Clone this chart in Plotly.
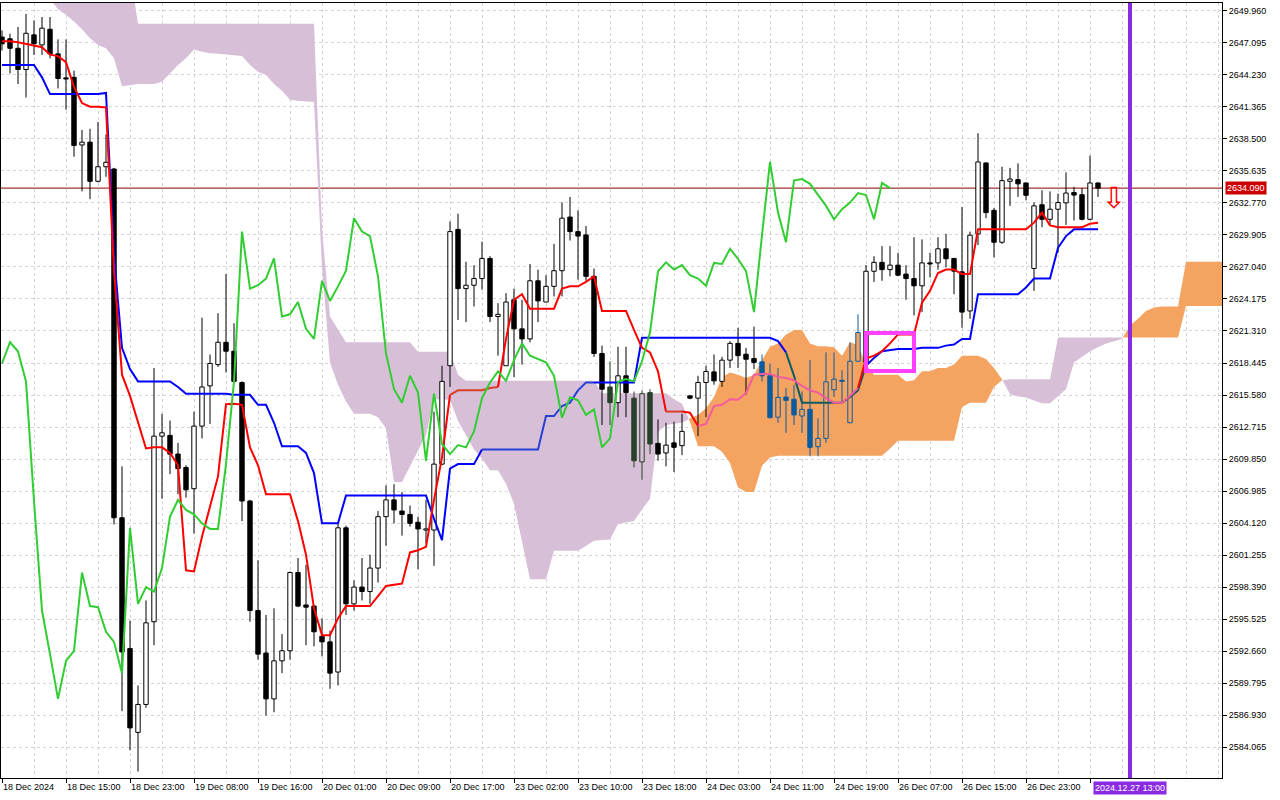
import plotly.graph_objects as go

# XAUUSD H1, bars from 18 Dec 07:00 to 27 Dec 09:00 (bar index = position on the x axis)
opens = [2647.6, 2647.45, 2646.6, 2644.7, 2647.8, 2646.9, 2648.3, 2646.1, 2643.95, 2644.0,
         2637.95, 2638.2, 2634.7, 2636.0, 2635.8, 2604.6, 2592.9, 2585.4, 2587.9, 2595.3,
         2611.9, 2611.97, 2610.3, 2609.1, 2607.2, 2612.8, 2616.4, 2618.3, 2620.3, 2619.5,
         2616.7, 2606.1, 2596.3, 2592.5, 2588.4, 2591.8, 2592.7, 2599.7, 2596.8, 2596.7,
         2594.0, 2593.5, 2590.8, 2603.7, 2596.9, 2598.4, 2598.0, 2600.1, 2604.7, 2606.2,
         2605.2, 2604.9, 2604.2, 2603.5, 2603.5, 2609.4, 2618.2, 2630.4, 2625.1, 2625.4,
         2626.0, 2627.8, 2622.6, 2618.2, 2624.1, 2621.5, 2620.6, 2625.8, 2623.9, 2625.3,
         2626.7, 2631.5, 2630.2, 2629.9, 2626.2, 2619.3, 2616.3, 2614.9, 2617.3, 2615.3,
         2609.6, 2615.8, 2611.26, 2610.4, 2611.3, 2611.05, 2615.5, 2615.3, 2616.7, 2617.65,
         2616.8, 2618.7, 2620.2, 2619.23, 2618.85, 2618.55, 2617.3, 2613.6, 2615.4, 2615.2,
         2613.7, 2614.3, 2610.96, 2611.7, 2616.05, 2616.9, 2613.1, 2618.6, 2618.5, 2626.65,
         2627.45, 2626.8, 2627.2, 2626.4, 2626.0, 2625.35, 2627.4, 2627.4, 2628.66, 2627.8,
         2626.6, 2623.1, 2630.0, 2636.34, 2632.1, 2629.25, 2634.7, 2634.85, 2634.55, 2626.9,
         2632.6, 2631.3, 2632.2, 2632.77, 2633.7, 2633.5, 2631.3, 2634.55]
highs = [2648.2, 2647.9, 2648.5, 2649.67, 2649.1, 2649.4, 2649.4, 2647.4, 2647.4, 2644.6,
         2639.3, 2639.4, 2640.0, 2638.9, 2635.9, 2609.2, 2595.4, 2589.6, 2597.2, 2618.0,
         2613.9, 2613.3, 2611.3, 2609.3, 2614.1, 2622.5, 2619.2, 2622.9, 2626.4, 2622.0,
         2616.8, 2606.2, 2600.8, 2595.9, 2596.5, 2594.2, 2599.8, 2601.0, 2600.4, 2596.8,
         2595.6, 2594.5, 2604.2, 2603.9, 2599.0, 2601.0, 2601.3, 2605.2, 2607.5, 2607.6,
         2606.9, 2605.7, 2604.7, 2606.2, 2614.1, 2618.2, 2631.1, 2631.8, 2627.5, 2627.2,
         2629.3, 2628.0, 2623.8, 2624.7, 2625.1, 2624.1, 2627.3, 2626.8, 2626.3, 2629.1,
         2632.8, 2633.3, 2632.1, 2630.7, 2626.9, 2620.0, 2618.6, 2619.9, 2619.9, 2615.9,
         2616.0, 2616.1, 2613.4, 2613.1, 2613.2, 2613.9, 2615.6, 2617.3, 2618.2, 2619.2,
         2619.0, 2620.4, 2621.6, 2619.8, 2621.7, 2619.2, 2618.4, 2618.0, 2616.2, 2616.5,
         2615.9, 2618.7, 2613.5, 2619.4, 2619.4, 2617.8, 2620.3, 2622.8, 2627.2, 2628.0,
         2628.9, 2628.9, 2628.3, 2627.2, 2629.7, 2629.5, 2628.3, 2629.7, 2630.0, 2627.8,
         2632.4, 2630.2, 2639.0, 2636.4, 2632.3, 2636.0, 2635.9, 2636.3, 2634.6, 2632.8,
         2633.9, 2633.8, 2633.6, 2635.5, 2634.2, 2634.1, 2637.0, 2634.6]
lows = [2646.4, 2644.35, 2643.4, 2642.2, 2646.0, 2646.0, 2645.7, 2643.0, 2641.1, 2636.9,
        2633.8, 2633.1, 2634.6, 2635.1, 2604.0, 2587.3, 2583.8, 2581.9, 2587.6, 2593.2,
        2606.3, 2608.5, 2606.7, 2606.4, 2603.2, 2611.7, 2613.0, 2618.1, 2617.6, 2616.7,
        2604.3, 2595.3, 2591.9, 2586.9, 2587.2, 2590.7, 2591.9, 2596.6, 2593.2, 2593.1,
        2592.2, 2589.3, 2589.6, 2595.9, 2596.3, 2597.2, 2596.9, 2598.8, 2602.1, 2604.1,
        2603.0, 2603.8, 2600.0, 2602.3, 2600.3, 2609.3, 2616.3, 2622.3, 2622.1, 2623.5,
        2625.0, 2622.1, 2619.1, 2618.2, 2617.2, 2618.3, 2620.3, 2622.1, 2623.9, 2624.4,
        2624.4, 2629.4, 2625.9, 2625.8, 2619.0, 2612.9, 2612.9, 2613.6, 2613.6, 2609.1,
        2608.0, 2610.3, 2609.7, 2609.2, 2608.7, 2610.2, 2615.2, 2611.9, 2613.6, 2616.5,
        2616.3, 2618.0, 2618.0, 2615.6, 2617.9, 2616.8, 2613.5, 2613.1, 2612.2, 2612.9,
        2612.2, 2610.1, 2610.1, 2611.3, 2615.4, 2614.9, 2613.1, 2618.6, 2617.9, 2625.7,
        2625.8, 2626.2, 2626.2, 2624.1, 2622.7, 2623.0, 2626.1, 2626.8, 2627.0, 2624.6,
        2621.6, 2622.4, 2629.0, 2631.4, 2627.9, 2629.1, 2632.5, 2633.3, 2633.0, 2624.9,
        2630.6, 2630.8, 2628.3, 2630.8, 2631.2, 2631.2, 2631.2, 2633.3]
closes = [2647.0, 2646.6, 2644.7, 2647.94, 2647.0, 2648.4, 2646.1, 2643.9, 2643.85, 2637.9,
          2638.2, 2634.7, 2636.0, 2636.4, 2604.6, 2592.6, 2585.8, 2587.9, 2595.2, 2611.9,
          2612.2, 2610.3, 2609.0, 2607.1, 2612.8, 2616.3, 2618.4, 2620.3, 2619.5, 2616.8,
          2606.1, 2596.3, 2592.4, 2588.4, 2591.8, 2592.7, 2599.7, 2596.7, 2596.6, 2594.4,
          2593.5, 2590.7, 2603.7, 2596.9, 2598.4, 2598.0, 2600.1, 2604.7, 2606.2, 2605.3,
          2604.9, 2604.1, 2603.6, 2603.6, 2609.4, 2616.8, 2630.2, 2625.1, 2625.4, 2626.0,
          2627.8, 2622.6, 2622.8, 2623.9, 2621.5, 2620.6, 2625.8, 2624.0, 2625.3, 2626.7,
          2631.4, 2630.2, 2629.8, 2626.2, 2619.3, 2616.1, 2614.9, 2617.3, 2615.8, 2609.7,
          2615.7, 2611.2, 2610.3, 2611.1, 2610.9, 2612.33, 2615.3, 2616.7, 2617.69, 2616.85,
          2618.7, 2620.2, 2619.1, 2618.78, 2618.5, 2617.3, 2613.55, 2615.37, 2615.1, 2613.8,
          2614.3, 2610.9, 2611.7, 2616.76, 2617.0, 2616.8, 2618.6, 2621.17, 2626.65, 2627.45,
          2626.8, 2627.2, 2626.3, 2626.0, 2625.35, 2627.4, 2627.3, 2628.66, 2627.77, 2626.66,
          2623.0, 2629.88, 2636.43, 2631.9, 2629.25, 2634.76, 2634.9, 2634.47, 2633.45, 2632.5,
          2631.3, 2632.2, 2632.8, 2633.65, 2633.47, 2631.3, 2634.55, 2634.09]

# Ichimoku lines
tenkan = [2647.23, 2647.23, 2647.14, 2647.0, 2646.9, 2646.7, 2646.03, 2645.9, 2645.36, 2643.14,
          2641.7, 2641.37, 2641.37, 2641.3, 2626.7, 2617.4, 2615.5, 2613.2, 2610.8, 2610.9,
          2610.9, 2610.4, 2609.3, 2599.9, 2599.8, 2602.9, 2605.7, 2608.3, 2614.75, 2614.8,
          2614.7, 2610.9, 2609.3, 2606.7, 2606.7, 2606.7, 2606.7, 2604.3, 2601.3, 2596.5,
          2594.1, 2594.1, 2595.6, 2596.7, 2596.7, 2596.7, 2596.7, 2597.6, 2598.5, 2598.6,
          2598.7, 2601.5, 2601.7, 2602.0, 2606.2, 2610.0, 2615.6, 2616.0, 2616.0, 2616.0,
          2616.0, 2616.2, 2616.3, 2620.6, 2624.1, 2624.6, 2623.3, 2623.3, 2623.3, 2623.3,
          2625.1, 2625.3, 2625.3, 2625.7, 2626.2, 2623.1, 2623.1, 2623.1, 2623.1, 2621.4,
          2619.8, 2619.4, 2617.7, 2614.1, 2614.1, 2614.1, 2614.0, 2612.8, 2613.0, 2614.6,
          2614.7, 2615.2, 2615.15, 2615.75, 2617.4, 2617.45, 2617.45, 2617.2, 2617.1, 2616.9,
          2616.4, 2616.0, 2615.8, 2615.3, 2614.9, 2614.9, 2615.5, 2616.2, 2618.85, 2619.1,
          2619.5, 2620.2, 2621.0, 2621.0, 2621.0, 2623.85, 2624.9, 2626.5, 2626.8, 2626.8,
          2626.4, 2626.4, 2630.4, 2630.4, 2630.4, 2630.4, 2630.4, 2630.4, 2630.4, 2631.0,
          2631.9, 2630.75, 2630.6, 2630.6, 2630.6, 2630.6, 2630.9, 2631.0]
kijun = [2645.1, 2645.1, 2645.1, 2645.1, 2645.1, 2644.0, 2642.5, 2642.5, 2642.5, 2642.5,
         2642.5, 2642.5, 2642.5, 2642.6, 2628.1, 2619.8, 2617.9, 2616.8, 2616.8, 2616.8,
         2616.8, 2616.8, 2616.3, 2615.7, 2615.7, 2615.7, 2615.7, 2615.7, 2615.7, 2615.6,
         2615.6, 2615.6, 2614.7, 2614.7, 2613.1, 2611.0, 2611.0, 2611.0, 2610.4, 2608.6,
         2604.1, 2604.1, 2604.1, 2606.6, 2606.6, 2606.6, 2606.6, 2606.6, 2606.6, 2606.6,
         2606.6, 2606.6, 2606.6, 2606.6, 2604.5, 2602.6, 2609.0, 2609.4, 2609.4, 2609.4,
         2610.7, 2610.7, 2610.7, 2610.7, 2610.7, 2610.7, 2610.7, 2610.7, 2613.7, 2613.7,
         2614.6, 2614.9, 2616.0, 2616.7, 2616.7, 2616.7, 2616.7, 2616.7, 2616.7, 2616.7,
         2620.7, 2620.7, 2620.7, 2620.7, 2620.7, 2620.7, 2620.7, 2620.7, 2620.7, 2620.7,
         2620.7, 2620.7, 2620.7, 2620.7, 2620.7, 2620.7, 2620.7, 2620.4, 2619.4, 2617.3,
         2614.9, 2614.9, 2614.9, 2614.9, 2614.9, 2614.9, 2615.4, 2616.0, 2618.2, 2618.9,
         2619.5, 2619.6, 2619.7, 2619.7, 2619.7, 2619.8, 2619.8, 2619.8, 2620.0, 2620.1,
         2620.6, 2620.6, 2624.6, 2624.6, 2624.6, 2624.6, 2624.6, 2624.6, 2625.2, 2626.0,
         2626.0, 2626.0, 2628.75, 2629.8, 2630.4, 2630.4, 2630.4, 2630.4]
# senkou spans, already shifted 26 bars forward (bars 0..153)
span_a = [2653.0, 2653.0, 2652.8, 2652.5, 2652.2, 2651.6, 2651.0, 2650.1, 2649.6, 2649.0,
          2648.3, 2647.5, 2646.9, 2646.6, 2645.7, 2643.2, 2643.3, 2643.4, 2643.4, 2643.4,
          2643.6, 2644.4, 2645.1, 2645.7, 2646.5, 2646.3, 2646.15, 2646.1, 2646.05, 2646.0,
          2645.9, 2645.1, 2644.5, 2644.2, 2643.4, 2642.8, 2642.0, 2641.9, 2641.85, 2641.8,
          2627.0, 2618.5, 2616.5, 2615.0, 2613.9, 2613.9, 2613.9, 2613.6, 2612.6, 2607.8,
          2607.8, 2609.2, 2610.6, 2612.0, 2615.2, 2615.2, 2615.15, 2613.25, 2612.0, 2610.7,
          2609.9, 2608.85, 2608.85, 2607.65, 2605.85, 2602.55, 2599.1, 2599.1, 2599.1, 2601.65,
          2601.65, 2601.65, 2601.65, 2602.1, 2602.55, 2602.6, 2602.65, 2604.05, 2604.15, 2604.3,
          2605.35, 2606.3, 2612.3, 2612.9, 2613.0, 2613.1, 2613.5, 2613.8, 2614.4, 2615.4,
          2617.2, 2617.6, 2617.4, 2617.1, 2617.4, 2618.7, 2619.9, 2620.2, 2621.0, 2621.4,
          2621.4, 2620.2, 2619.95, 2619.95, 2619.85, 2619.1, 2620.3, 2620.05, 2618.3, 2617.4,
          2617.4, 2617.4, 2617.4, 2616.8, 2616.9, 2617.7, 2617.7, 2618.0, 2618.0, 2618.3,
          2619.1, 2619.1, 2619.1, 2618.8, 2618.0, 2617.0, 2615.65, 2615.45, 2615.35, 2615.1,
          2614.85, 2614.85, 2615.45, 2616.1, 2618.5, 2619.0, 2619.5, 2619.85, 2620.2, 2620.4,
          2620.6, 2621.8, 2622.4, 2623.1, 2623.4, 2623.5, 2623.5, 2623.5, 2627.5, 2627.5,
          2627.5, 2627.5, 2627.5, 2627.5]
span_b = [2653.5, 2653.5, 2653.5, 2653.5, 2653.5, 2653.5, 2653.5, 2653.5, 2653.5, 2653.5,
          2653.5, 2653.5, 2653.5, 2653.5, 2653.5, 2653.5, 2653.5, 2648.8, 2648.8, 2648.8,
          2648.8, 2648.8, 2648.8, 2648.8, 2648.8, 2648.8, 2648.8, 2648.8, 2648.8, 2648.8,
          2648.8, 2648.8, 2648.8, 2648.8, 2648.8, 2648.8, 2648.8, 2648.8, 2648.8, 2648.8,
          2630.4, 2622.6, 2621.45, 2620.3, 2620.3, 2620.3, 2620.3, 2620.3, 2620.3, 2620.3,
          2620.3, 2620.3, 2619.45, 2619.45, 2619.45, 2619.45, 2619.45, 2617.4, 2616.85, 2616.85,
          2616.85, 2616.85, 2616.85, 2616.85, 2616.85, 2616.85, 2616.85, 2616.85, 2616.85, 2616.85,
          2616.85, 2616.85, 2616.85, 2616.85, 2616.85, 2615.75, 2615.75, 2615.75, 2615.75, 2615.75,
          2615.75, 2615.75, 2615.75, 2615.75, 2615.2, 2614.8, 2613.2, 2611.0, 2611.0, 2611.0,
          2610.5, 2609.5, 2607.3, 2606.9, 2606.9, 2609.25, 2610.0, 2610.15, 2610.15, 2610.15,
          2610.15, 2610.15, 2610.15, 2610.15, 2610.15, 2610.15, 2610.15, 2610.15, 2610.15, 2610.15,
          2610.15, 2610.8, 2611.5, 2611.5, 2611.5, 2611.5, 2611.5, 2611.5, 2611.5, 2611.5,
          2614.5, 2614.9, 2614.9, 2614.9, 2616.3, 2616.9, 2617.0, 2617.0, 2617.0, 2617.0,
          2617.0, 2617.0, 2620.72, 2620.72, 2620.72, 2620.72, 2620.72, 2620.72, 2620.72, 2620.72,
          2620.72, 2620.72, 2620.72, 2620.72, 2620.72, 2620.72, 2620.72, 2620.72, 2623.55, 2623.55,
          2623.55, 2623.55, 2623.55, 2623.55]

label_bars = [0, 8, 16, 24, 32, 40, 48, 56, 64, 72, 80, 88, 96, 104, 112, 120, 128, 136]
label_text = ["18 Dec 2024", "18 Dec 15:00", "18 Dec 23:00", "19 Dec 08:00", "19 Dec 16:00",
              "20 Dec 01:00", "20 Dec 09:00", "20 Dec 17:00", "23 Dec 02:00", "23 Dec 10:00",
              "23 Dec 18:00", "24 Dec 03:00", "24 Dec 11:00", "24 Dec 19:00", "26 Dec 07:00",
              "26 Dec 15:00", "26 Dec 23:00", ""]
price_ticks = [2649.960, 2647.095, 2644.230, 2641.365, 2638.500, 2635.635, 2632.770, 2629.905,
               2627.040, 2624.175, 2621.310, 2618.445, 2615.580, 2612.715, 2609.850, 2606.985,
               2604.120, 2601.255, 2598.390, 2595.525, 2592.660, 2589.795, 2586.930, 2584.065]

current_price = 2634.09
vline_bar = 141
vline_label = "2024.12.27 13:00"
box_bars = [108, 114]
box_prices = [2617.73, 2621.13]
arrow_bar = 139
arrow_price = 2633.0

x_range = [-0.125, 152.5]
y_range = [2581.32, 2650.65]
GRID = "#d4d4d4"
FONT = "Liberation Sans"

# MT draws the cloud xor-ed over what was painted before it (candles, tenkan, kijun)
MASK = {"up": 0x0B5B9F, "down": 0x274027}


def xor(color, kind):
    return "#%06x" % (int(color[1:], 16) ^ MASK[kind])


def cloud_kind(i, v):
    if i < 0 or i >= len(span_a):
        return None
    lo, hi = min(span_a[i], span_b[i]), max(span_a[i], span_b[i])
    if lo <= v <= hi:
        return "up" if span_a[i] >= span_b[i] else "down"
    return None


fig = go.Figure()

# cloud polygons, split where the spans cross
pieces = []
kind_now = None
xs, ya, yb = [], [], []
for i in range(len(span_a)):
    kind = "up" if span_a[i] >= span_b[i] else "down"
    if kind_now is not None and kind != kind_now:
        d0 = span_a[i - 1] - span_b[i - 1]
        d1 = span_a[i] - span_b[i]
        t = d0 / (d0 - d1)
        xc = i - 1 + t
        yc = span_a[i - 1] + t * (span_a[i] - span_a[i - 1])
        xs.append(xc)
        ya.append(yc)
        yb.append(yc)
        pieces.append((kind_now, xs, ya, yb))
        xs, ya, yb = [xc], [yc], [yc]
    kind_now = kind
    xs.append(i)
    ya.append(span_a[i])
    yb.append(span_b[i])
pieces.append((kind_now, xs, ya, yb))

for kind, px, pa, pb in pieces:
    fig.add_trace(go.Scatter(x=px + px[::-1], y=pa + pb[::-1], fill="toself",
                             fillcolor=xor("#ffffff", kind), line=dict(width=0),
                             mode="lines", hoverinfo="skip"))

# candles
bars = list(range(len(closes)))
fills, edges, bases, heights = [], [], [], []
wicks = {}
for i in bars:
    o, h, l, c = opens[i], highs[i], lows[i], closes[i]
    top, bot = max(o, c), min(o, c)
    k = cloud_kind(i, (o + c) / 2)
    body = "#ffffff" if c >= o else "#000000"
    edge = xor("#000000", k) if k else "#000000"
    fills.append(xor(body, k) if k else body)
    edges.append(edge)
    bases.append(bot)
    heights.append(max(top - bot, 0.06))
    wx, wy = wicks.setdefault(edge, ([], []))
    wx += [i, i, None, i, i, None]
    wy += [top, h, None, l, bot, None]

for edge, (wx, wy) in wicks.items():
    fig.add_trace(go.Scatter(x=wx, y=wy, mode="lines", line=dict(color=edge, width=1),
                             yaxis="y2", hoverinfo="skip"))

fig.add_trace(go.Bar(x=bars, y=heights, base=bases, width=0.55,
                     marker=dict(color=fills, line=dict(color=edges, width=1)),
                     yaxis="y2", hoverinfo="skip"))


def add_line(xv, yv, color, under_cloud=True):
    kinds = [cloud_kind(x, y) if under_cloud else None for x, y in zip(xv, yv)]
    runs = []
    for j in range(len(xv) - 1):
        k = kinds[j] if kinds[j] == kinds[j + 1] else None
        col = xor(color, k) if k else color
        if runs and runs[-1][0] == col:
            runs[-1][1].append(xv[j + 1])
            runs[-1][2].append(yv[j + 1])
        else:
            runs.append([col, [xv[j], xv[j + 1]], [yv[j], yv[j + 1]]])
    for col, rx, ry in runs:
        fig.add_trace(go.Scatter(x=rx, y=ry, mode="lines", line=dict(color=col, width=2),
                                 yaxis="y2", hoverinfo="skip"))


add_line(bars, kijun, "#0000ff")
add_line(bars, tenkan, "#ff0000")
# chikou span = close plotted 26 bars back, painted after the cloud
chikou = closes[26:]
add_line(list(range(len(chikou))), chikou, "#32cd32", under_cloud=False)

fig.add_trace(go.Scatter(x=[arrow_bar], y=[arrow_price], mode="text", text=["⇩"],
                         textfont=dict(color="#ff0000", size=29, family="DejaVu Sans"),
                         yaxis="y2", hoverinfo="skip"))

fig.add_hline(y=current_price, line_color="#8c0000", line_width=1, layer="below")
fig.add_vline(x=vline_bar, line_color="#8a2be2", line_width=4)
fig.add_shape(type="rect", xref="x", yref="y", x0=box_bars[0], x1=box_bars[1],
              y0=box_prices[0], y1=box_prices[1], line=dict(color="#ff40ff", width=4))

fig.add_annotation(x=1, xref="paper", xanchor="left", xshift=3, y=current_price, yref="y",
                   text="%.3f" % current_price, showarrow=False, bgcolor="#cc0000",
                   borderpad=1, font=dict(color="white", size=9, family=FONT))
fig.add_annotation(x=vline_bar, xref="x", y=0, yref="paper", yanchor="top", yshift=-3,
                   text=vline_label, showarrow=False, bgcolor="#8a2be2", borderpad=1,
                   font=dict(color="white", size=9, family=FONT))

fig.update_layout(
    width=1280, height=800,
    margin=dict(l=1, r=58, t=3, b=22),
    paper_bgcolor="white", plot_bgcolor="white",
    showlegend=False, barmode="overlay",
    font=dict(family=FONT, size=9, color="black"),
    xaxis=dict(range=x_range, tickmode="array", tickvals=label_bars, ticktext=label_text,
               ticks="outside", ticklen=4, tickcolor="black", ticklabelposition="outside right",
               showgrid=True, gridcolor=GRID, griddash="3px,3px", gridwidth=1,
               minor=dict(tickmode="linear", tick0=0, dtick=4, showgrid=True, gridcolor=GRID,
                          griddash="3px,3px", ticks=""),
               showline=True, linecolor="black", linewidth=1, mirror=True, zeroline=False),
    yaxis=dict(range=y_range, side="right", tickmode="array", tickvals=price_ticks,
               ticktext=["%.3f" % p for p in price_ticks], ticks="outside", ticklen=4,
               tickcolor="black", showgrid=True, gridcolor=GRID, griddash="3px,3px",
               showline=True, linecolor="black", linewidth=1, mirror=True, zeroline=False),
    yaxis2=dict(range=y_range, overlaying="y", visible=False),
)

fig.write_html("out.html", config={"displayModeBar": False},
               post_script="document.body.style.margin='0px';")
